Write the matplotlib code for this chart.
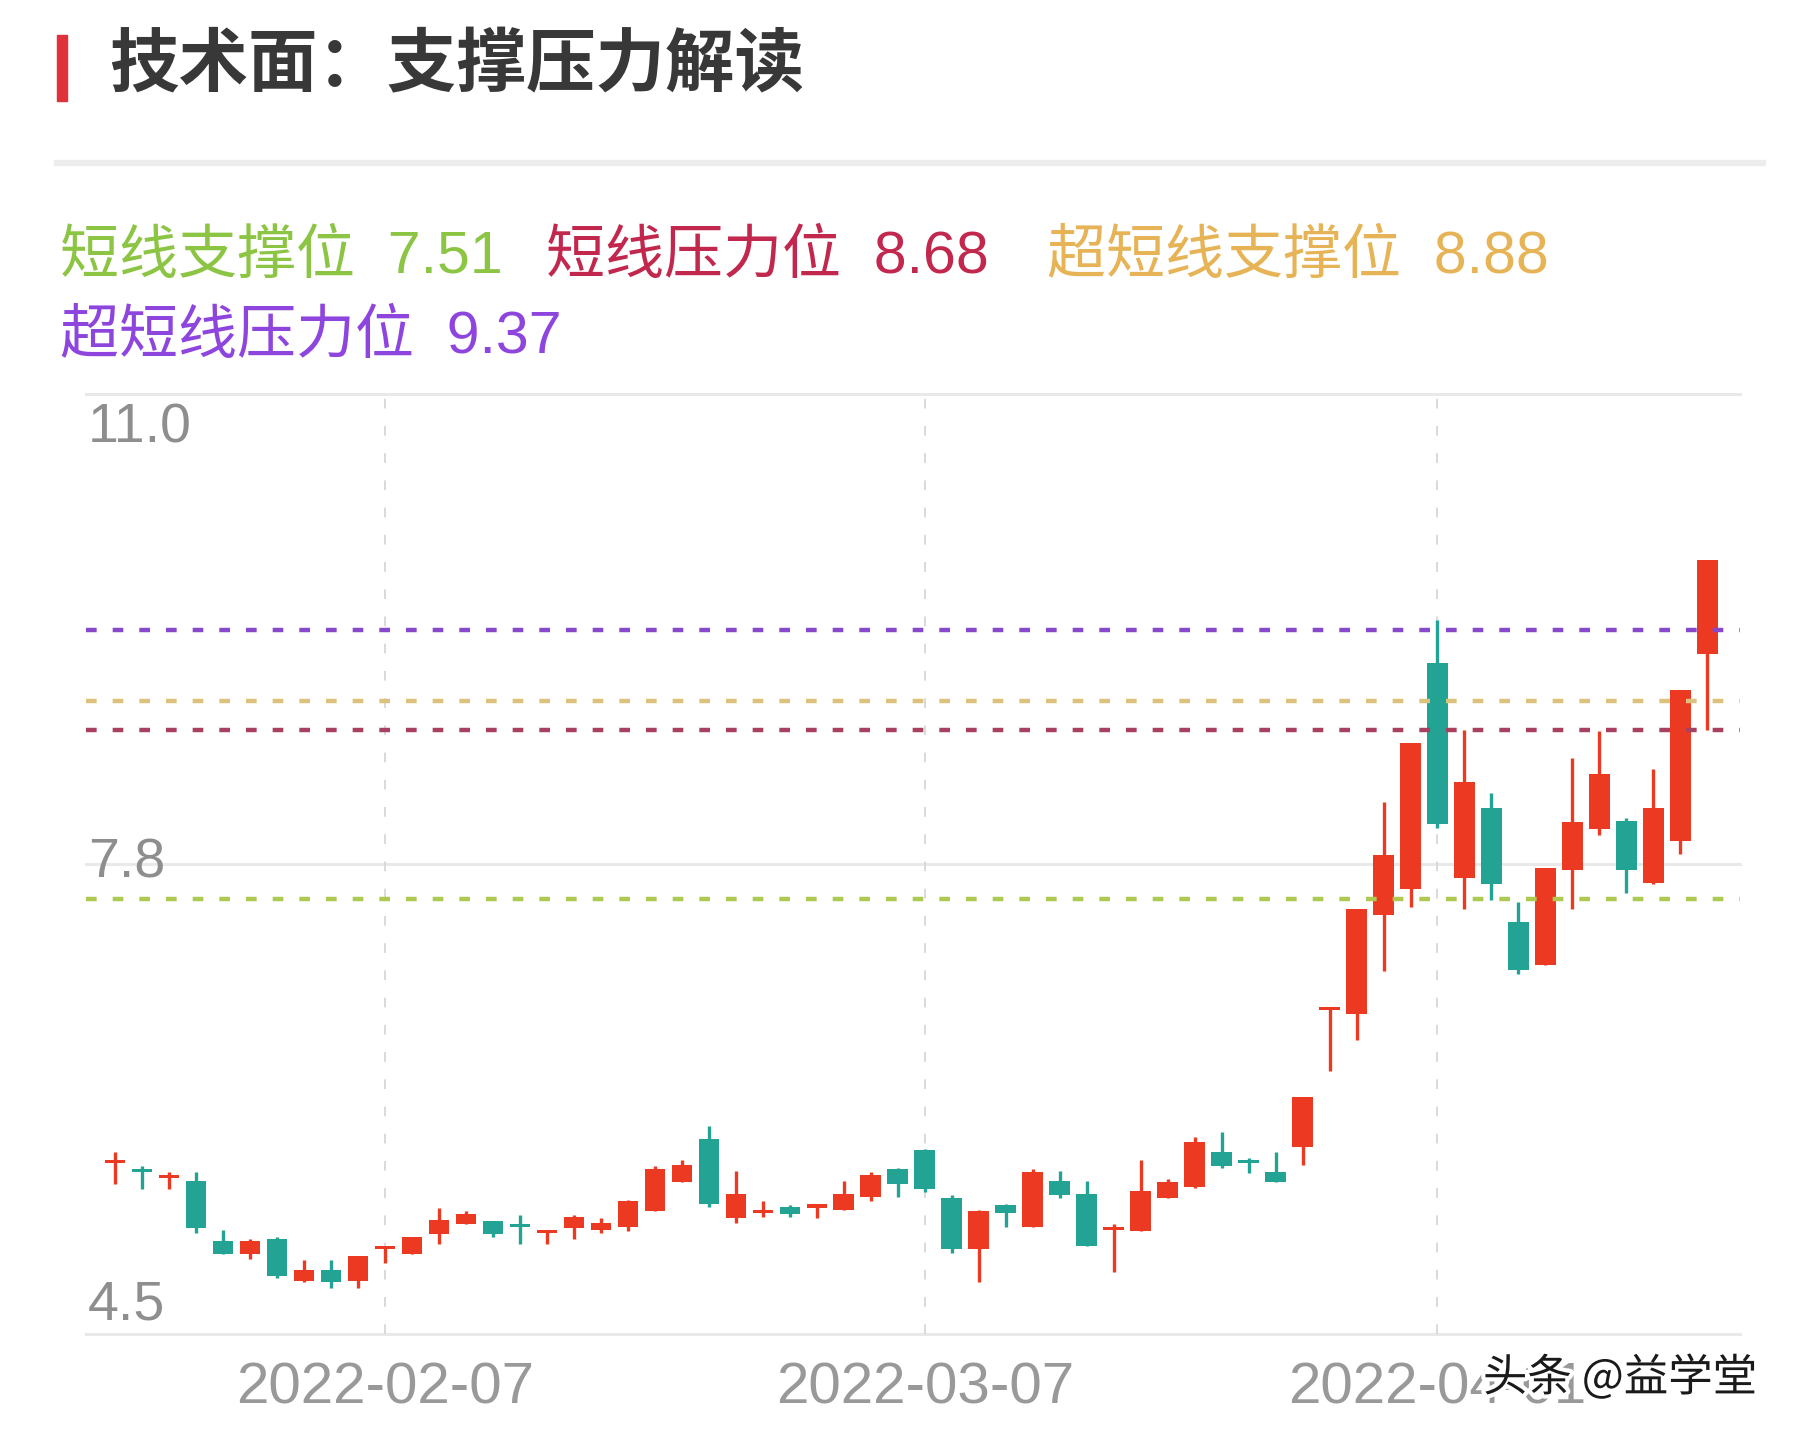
import matplotlib
matplotlib.use("Agg")
import matplotlib.pyplot as plt
from matplotlib.patches import Rectangle
from matplotlib.lines import Line2D
import matplotlib.patheffects as pe

plt.rcParams['font.family'] = ['Liberation Sans', 'Noto Sans CJK SC', 'DejaVu Sans']

# ---------------- data ----------------
dates = ['2022-01-17', '2022-01-18', '2022-01-19', '2022-01-20', '2022-01-21',
         '2022-01-24', '2022-01-25', '2022-01-26', '2022-01-27', '2022-01-28',
         '2022-02-07', '2022-02-08', '2022-02-09', '2022-02-10', '2022-02-11',
         '2022-02-14', '2022-02-15', '2022-02-16', '2022-02-17', '2022-02-18',
         '2022-02-21', '2022-02-22', '2022-02-23', '2022-02-24', '2022-02-25',
         '2022-02-28', '2022-03-01', '2022-03-02', '2022-03-03', '2022-03-04',
         '2022-03-07', '2022-03-08', '2022-03-09', '2022-03-10', '2022-03-11',
         '2022-03-14', '2022-03-15', '2022-03-16', '2022-03-17', '2022-03-18',
         '2022-03-21', '2022-03-22', '2022-03-23', '2022-03-24', '2022-03-25',
         '2022-03-28', '2022-03-29', '2022-03-30', '2022-03-31', '2022-04-01',
         '2022-04-06', '2022-04-07', '2022-04-08', '2022-04-11', '2022-04-12',
         '2022-04-13', '2022-04-14', '2022-04-15', '2022-04-18', '2022-04-19']

opens = [5.68, 5.64, 5.58, 5.56, 5.14, 5.05, 5.16, 4.87, 4.94, 4.87,
         5.09, 5.05, 5.19, 5.26, 5.28, 5.245, 5.20, 5.23, 5.22, 5.24,
         5.35, 5.55, 5.85, 5.30, 5.34, 5.38, 5.37, 5.36, 5.45, 5.64,
         5.77, 5.44, 5.09, 5.39, 5.24, 5.56, 5.47, 5.22, 5.21, 5.44,
         5.52, 5.76, 5.69, 5.62, 5.79, 6.74, 6.71, 7.40, 7.58, 9.14,
         7.65, 8.14, 7.35, 7.05, 7.71, 7.99, 8.05, 7.62, 7.91, 9.20]
highs = [5.76, 5.66, 5.62, 5.62, 5.22, 5.16, 5.17, 5.01, 5.01, 5.04,
         5.10, 5.17, 5.37, 5.35, 5.28, 5.32, 5.215, 5.32, 5.30, 5.43,
         5.66, 5.70, 5.94, 5.63, 5.42, 5.39, 5.40, 5.56, 5.62, 5.65,
         5.78, 5.46, 5.36, 5.40, 5.64, 5.63, 5.56, 5.26, 5.70, 5.57,
         5.86, 5.90, 5.72, 5.76, 6.14, 6.75, 7.44, 8.18, 8.59, 9.44,
         8.68, 8.24, 7.49, 7.72, 8.48, 8.67, 8.07, 8.41, 8.95, 9.85]
lows = [5.54, 5.50, 5.50, 5.20, 5.05, 5.02, 4.89, 4.86, 4.82, 4.82,
        4.99, 5.05, 5.12, 5.26, 5.17, 5.12, 5.12, 5.16, 5.20, 5.21,
        5.35, 5.55, 5.38, 5.27, 5.31, 5.31, 5.30, 5.36, 5.42, 5.45,
        5.48, 5.06, 4.86, 5.24, 5.24, 5.44, 5.11, 4.93, 5.21, 5.44,
        5.51, 5.65, 5.61, 5.55, 5.67, 6.32, 6.53, 7.01, 7.45, 8.00,
        7.44, 7.50, 6.99, 7.05, 7.44, 7.95, 7.55, 7.61, 7.82, 8.68]
closes = [5.70, 5.62, 5.60, 5.23, 5.05, 5.14, 4.90, 4.94, 4.86, 5.04,
          5.10, 5.17, 5.29, 5.33, 5.19, 5.24, 5.215, 5.31, 5.27, 5.42,
          5.64, 5.67, 5.40, 5.47, 5.35, 5.33, 5.40, 5.47, 5.60, 5.54,
          5.50, 5.09, 5.35, 5.34, 5.62, 5.46, 5.11, 5.24, 5.49, 5.55,
          5.83, 5.66, 5.68, 5.55, 6.14, 6.75, 7.44, 7.81, 8.59, 8.03,
          8.32, 7.61, 7.02, 7.72, 8.04, 8.37, 7.71, 8.14, 8.95, 9.85]

level_names = ['短线支撑位', '短线压力位', '超短线支撑位', '超短线压力位']
level_values = [7.51, 8.68, 8.88, 9.37]
level_text_colors = ['#8CC443', '#C2284E', '#E6B457', '#8E45DE']
level_line_colors = ['#ADC952', '#A8415F', '#DCC27C', '#8748C9']

y_ticks = [4.5, 7.75, 11.0]
y_tick_labels = ['4.5', '7.8', '11.0']
x_tick_labels = ['2022-02-07', '2022-03-07', '2022-04-01']

title = '技术面：支撑压力解读'
watermark = '头条 @益学堂'

UP = '#EC3A22'
DOWN = '#23A394'

# ---------------- figure ----------------
fig = plt.figure(figsize=(18.01, 14.40), dpi=100)
fig.patch.set_facecolor('white')

# header
fig.patches.append(Rectangle((0.0319, 0.930), 0.0052, 0.046, transform=fig.transFigure,
                             color='#E0323A', zorder=5))
fig.text(0.0606, 0.954, title, fontsize=50, fontweight='bold', color='#383838',
         va='center', ha='left', family=['Noto Sans CJK SC', 'DejaVu Sans'])
fig.lines.append(Line2D([0.0319, 0.979], [0.8868, 0.8868], transform=fig.transFigure,
                        color='#EDEDED', lw=4.5))

# legend texts
legend_pos = [(0.0332, 0.8215), (0.3029, 0.8215), (0.5816, 0.8215), (0.0332, 0.7655)]
for name, val, col, (px, py) in zip(level_names, level_values, level_text_colors, legend_pos):
    fig.text(px, py, f'{name}  {val:.2f}', fontsize=42.5, color=col, va='center', ha='left')

# ---------------- chart ----------------
ax = fig.add_axes([0.048, 0.0736, 0.918, 0.6528])
n = len(dates)
xs = list(range(n))
ax.set_xlim(-1.06, n - 1 + 1.2)
ax.set_ylim(y_ticks[0], y_ticks[-1])
for s in ax.spines.values():
    s.set_visible(False)

# horizontal grid
for yv in y_ticks:
    ax.axhline(yv, color='#E9E9E9', lw=2.2, zorder=0, clip_on=False)

# vertical dashed grid at tick dates
tick_idx = [dates.index(d) for d in x_tick_labels]
for ti in tick_idx:
    ax.axvline(ti, color='#D9D9D9', lw=1.4, ls=(0, (5, 9)), zorder=0)

# candles
body_bottom = [min(o, c) for o, c in zip(opens, closes)]
body_height = [max(abs(c - o), 0.02) for o, c in zip(opens, closes)]
colors = [UP if c >= o else DOWN for o, c in zip(opens, closes)]
ax.vlines(xs, lows, highs, colors=colors, lw=2.4, zorder=3)
ax.bar(xs, body_height, bottom=body_bottom, width=0.76, color=colors, zorder=4,
       linewidth=0)

# level lines
for val, col in zip(level_values, level_line_colors):
    ax.axhline(val, color=col, lw=3.2, ls=(0, (2.4, 3.6)), zorder=5)

# y labels drawn inside the plot
ytr = ax.get_yaxis_transform()
vas = ['bottom', 'center', 'top']
offs = [2, 0, -6]
for yv, lab, va, off in zip(y_ticks, y_tick_labels, vas, offs):
    ax.annotate(lab, (0.0, yv), xycoords=ytr, xytext=(1, off), textcoords='offset points',
                fontsize=40, color='#8E8E8E', va=va, ha='left', zorder=6)
ax.set_yticks([])

ax.set_xticks(tick_idx)
ax.set_xticklabels(x_tick_labels, fontsize=42, color='#999999')
ax.tick_params(axis='x', length=0, pad=20)

# watermark (overlaps the last date label, as in the source)
fig.text(0.9758, 0.043, watermark, fontsize=32, color='#1a1a1a', ha='right', va='center',
         family=['Noto Sans CJK SC', 'DejaVu Sans'], zorder=10,
         path_effects=[pe.withStroke(linewidth=6, foreground='white')])

fig.savefig('out.png', dpi=100, facecolor='white')
